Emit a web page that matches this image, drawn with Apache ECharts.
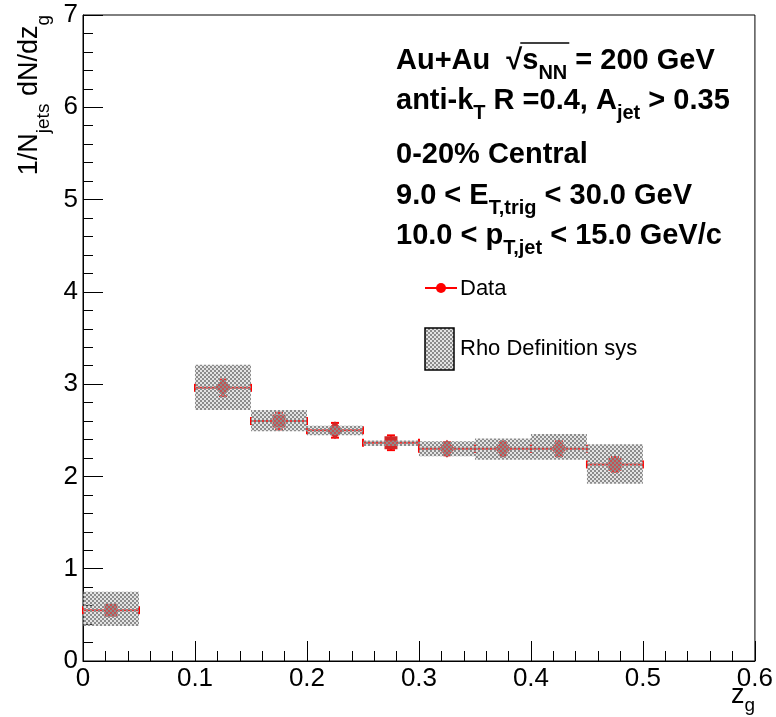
<!DOCTYPE html>
<html><head><meta charset="utf-8">
<script src="https://cdn.jsdelivr.net/npm/echarts@6/dist/echarts.min.js"></script>
<style>html,body{margin:0;padding:0;background:#fff}#c{width:776px;height:717px}</style>
</head><body><div id="c"></div><script>
// ---- data ----
const zgCenters = [0.025, 0.125, 0.175, 0.225, 0.275, 0.325, 0.375, 0.425, 0.475];
const dataValues = [0.55, 2.96, 2.60, 2.50, 2.365, 2.30, 2.30, 2.30, 2.13];
const statErr = [0.04, 0.09, 0.09, 0.08, 0.08, 0.07, 0.07, 0.08, 0.08];
const sysLow = [0.38, 2.72, 2.49, 2.445, 2.33, 2.22, 2.18, 2.18, 1.92];
const sysHigh = [0.75, 3.21, 2.72, 2.55, 2.39, 2.38, 2.41, 2.46, 2.35];
const binHalfWidth = 0.025;
const markerShapes = ['rect', 'diamond', 'rect', 'diamond', 'rect', 'diamond', 'diamond', 'diamond', 'rect'];
const xTickLabels = ['0', '0.1', '0.2', '0.3', '0.4', '0.5', '0.6'];
const yTickLabels = ['0', '1', '2', '3', '4', '5', '6', '7'];

const FF = '"Liberation Sans", Arial, Helvetica, sans-serif';
const MAIN = 29, SUB = 20;

// checker pattern (2px cells)
const pc = document.createElement('canvas'); pc.width = 4; pc.height = 4;
const g2 = pc.getContext('2d');
g2.fillStyle = 'rgba(170,170,170,0.32)'; g2.fillRect(2, 0, 2, 2); g2.fillRect(0, 2, 2, 2);
g2.fillStyle = '#8c8c8c'; g2.fillRect(0, 0, 2, 2); g2.fillRect(2, 2, 2, 2);
const pattern = { image: pc, repeat: 'repeat' };

// text measurement for sqrt overbar
const mc = document.createElement('canvas').getContext('2d');
function tw(txt, size, bold) { mc.font = (bold ? 'bold ' : '') + size + 'px ' + FF; return mc.measureText(txt).width; }

const chart = echarts.init(document.getElementById('c'), null, { renderer: 'canvas' });

const tickStyle = { color: '#000', width: 1 };
function axisCommon(labels, min, max, interval) {
  return {
    type: 'value', min, max, interval,
    axisLine: { show: true, onZero: false, lineStyle: { color: '#000', width: 1 } },
    axisTick: { show: true, inside: true, length: 20, lineStyle: tickStyle },
    minorTick: { show: true, splitNumber: 5, length: 10, lineStyle: tickStyle },
    splitLine: { show: false }, minorSplitLine: { show: false },
    axisLabel: {
      color: '#000', fontSize: 26, fontFamily: FF, margin: 5,
      formatter: v => { const i = Math.round((v - min) / interval); return labels[i] != null ? labels[i] : ''; }
    }
  };
}

const richMain = {
  m: { fontSize: MAIN, fontWeight: 'bold', fontFamily: FF, lineHeight: 44, color: '#000' },
  s: { fontSize: SUB, fontWeight: 'bold', fontFamily: FF, lineHeight: 20, verticalAlign: 'bottom', color: '#000' }
};
function infoText(x, y, text) {
  return { type: 'text', x, y, z: 100, style: { text, rich: richMain, align: 'left', verticalAlign: 'middle', textAlign: 'left', textVerticalAlign: 'middle' } };
}

const TX = 396;
const sqrtStart = TX + tw('Au+Au  ', MAIN, true);
const sqrtW = tw('√', MAIN, true);
const barEnd = sqrtStart + sqrtW + tw('s', MAIN, true) + tw('NN', SUB, true) + 2;

const option = {
  animation: false,
  backgroundColor: '#fff',
  grid: { left: 83, right: 20, top: 15, bottom: 56, show: true, borderColor: '#000', borderWidth: 1, backgroundColor: 'transparent' },
  xAxis: axisCommon(xTickLabels, 0, 0.6, 0.1),
  yAxis: axisCommon(yTickLabels, 0, 7, 1),
  series: [
    {
      name: 'Data err', type: 'custom', z: 2,
      data: zgCenters.map((x, i) => [x, dataValues[i], statErr[i]]),
      renderItem: (params, api) => {
        const x = api.value(0), y = api.value(1), e = api.value(2);
        const pl = api.coord([x - binHalfWidth, y]), pr = api.coord([x + binHalfWidth, y]);
        const pt = api.coord([x, y + e]), pb = api.coord([x, y - e]);
        const st = { stroke: '#ff0000', lineWidth: 2 };
        const c = 4;
        return {
          type: 'group', children: [
            { type: 'line', shape: { x1: pl[0], y1: pl[1], x2: pr[0], y2: pr[1] }, style: st },
            { type: 'line', shape: { x1: pl[0], y1: pl[1] - c, x2: pl[0], y2: pl[1] + c }, style: st },
            { type: 'line', shape: { x1: pr[0], y1: pr[1] - c, x2: pr[0], y2: pr[1] + c }, style: st },
            { type: 'line', shape: { x1: pt[0], y1: pt[1], x2: pb[0], y2: pb[1] }, style: st },
            { type: 'line', shape: { x1: pt[0] - c, y1: pt[1], x2: pt[0] + c, y2: pt[1] }, style: st },
            { type: 'line', shape: { x1: pb[0] - c, y1: pb[1], x2: pb[0] + c, y2: pb[1] }, style: st }
          ]
        };
      }
    },
    {
      name: 'Data', type: 'scatter', z: 3,
      data: zgCenters.map((x, i) => ({ value: [x, dataValues[i]], symbol: markerShapes[i], symbolSize: markerShapes[i] === 'diamond' ? [16, 18] : 13 })),
      itemStyle: { color: '#d02828', opacity: 1 }
    },
    {
      name: 'Rho Definition sys', type: 'custom', z: 4,
      data: zgCenters.map((x, i) => [x, sysLow[i], sysHigh[i]]),
      renderItem: (params, api) => {
        const x = api.value(0);
        const p0 = api.coord([x - binHalfWidth, api.value(2)]);
        const p1 = api.coord([x + binHalfWidth, api.value(1)]);
        return { type: 'rect', shape: { x: p0[0], y: p0[1], width: p1[0] - p0[0], height: p1[1] - p0[1] }, style: { fill: pattern } };
      }
    }
  ],
  graphic: [
    // y-axis title
    { type: 'text', x: 30, y: 15, rotation: Math.PI / 2, z: 100,
      style: { text: '{m|1/N}{s|jets}{m| dN/dz}{s|g}', align: 'right', verticalAlign: 'middle', textAlign: 'right', textVerticalAlign: 'middle',
        rich: { m: { fontSize: 27, fontFamily: FF, lineHeight: 46, color: '#000' }, s: { fontSize: 19, fontFamily: FF, lineHeight: 19, verticalAlign: 'bottom', color: '#000' } } } },
    // x-axis title
    { type: 'text', x: 755, y: 696, z: 100,
      style: { text: '{m|z}{s|g}', align: 'right', verticalAlign: 'middle', textAlign: 'right', textVerticalAlign: 'middle',
        rich: { m: { fontSize: 27, fontFamily: FF, lineHeight: 38, color: '#000' }, s: { fontSize: 19, fontFamily: FF, lineHeight: 19, verticalAlign: 'bottom', color: '#000' } } } },
    infoText(TX, 61, '{m|Au+Au  √}{m|s}{s|NN}{m| = 200 GeV}'),
    infoText(TX, 101, '{m|anti-k}{s|T}{m| R =0.4, A}{s|jet}{m| > 0.35}'),
    infoText(TX, 155, '{m|0-20% Central}'),
    infoText(TX, 196, '{m|9.0 < E}{s|T,trig}{m| < 30.0 GeV}'),
    infoText(TX, 236, '{m|10.0 < p}{s|T,jet}{m| < 15.0 GeV/c}'),
    // sqrt overbar
    { type: 'line', z: 100, shape: { x1: sqrtStart + sqrtW - 2, y1: 43, x2: barEnd, y2: 43 }, style: { stroke: '#000', lineWidth: 1.5 } },
    // legend
    { type: 'line', z: 100, shape: { x1: 425, y1: 288, x2: 457, y2: 288 }, style: { stroke: '#ff0000', lineWidth: 2 } },
    { type: 'circle', z: 100, shape: { cx: 441, cy: 288, r: 5 }, style: { fill: '#ff0000' } },
    { type: 'text', x: 460, y: 289, z: 100, style: { text: 'Data', font: '22px ' + FF, fill: '#000', verticalAlign: 'middle', textVerticalAlign: 'middle' } },
    { type: 'rect', z: 100, shape: { x: 425, y: 328, width: 29, height: 42 }, style: { fill: pattern, stroke: '#000', lineWidth: 1.5 } },
    { type: 'text', x: 460, y: 349, z: 100, style: { text: 'Rho Definition sys', font: '22px ' + FF, fill: '#000', verticalAlign: 'middle', textVerticalAlign: 'middle' } }
  ]
};
chart.setOption(option);
</script></body></html>
